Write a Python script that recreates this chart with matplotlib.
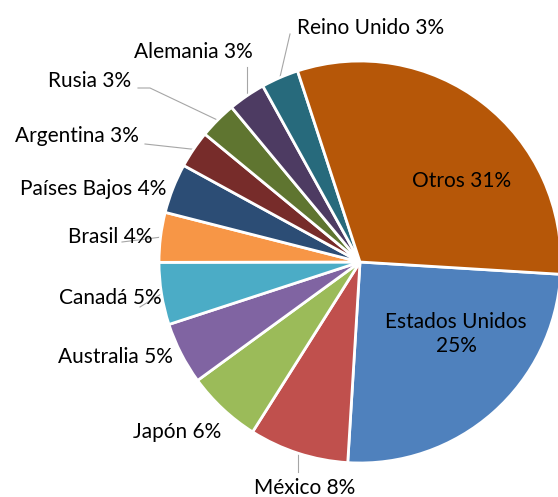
import numpy as np
import matplotlib.pyplot as plt

W, H = 558, 497

paises = ["Estados Unidos", "México", "Japón", "Australia", "Canadá", "Brasil",
          "Países Bajos", "Argentina", "Rusia", "Alemania", "Reino Unido", "Otros"]
porcentajes = [25, 8, 6, 5, 5, 4, 4, 3, 3, 3, 3, 31]
colores = ["#4F81BD", "#C0504D", "#9BBB59", "#8064A2", "#4BACC6", "#F79646",
           "#2C4D75", "#772C2A", "#5F7530", "#4D3B62", "#276A7C", "#B65708"]

# posicion de cada etiqueta (pixeles, y desde arriba) y puntos de la linea guia
etiquetas_pos = {
    "Estados Unidos": (456, 334), "México": (305, 488), "Japón": (177, 432),
    "Australia": (115, 357), "Canadá": (110, 298), "Brasil": (110, 237),
    "Países Bajos": (93, 189), "Argentina": (77, 136), "Rusia": (90, 81),
    "Alemania": (193, 52), "Reino Unido": (371, 28), "Otros": (462, 181),
}
# None en x = misma x que el punto de partida (linea vertical)
guias = {
    "México": [(None, 472)],
    "Canadá": [(140, 307)],
    "Brasil": [(122, 242)],
    "Argentina": [(145, 144)],
    "Rusia": [(150, 88), (138, 88)],
    "Alemania": [(None, 67)],
    "Reino Unido": [(290, 34)],
}

cx, cy, r = 360, 262, 201
inicio = -3.5

fig = plt.figure(figsize=(W / 100, H / 100), dpi=100)
ax = fig.add_axes([0, 0, 1, 1])

wedges, _ = ax.pie(porcentajes, colors=colores, startangle=inicio, counterclock=False,
                   center=(cx, H - cy), radius=r,
                   wedgeprops=dict(edgecolor="white", linewidth=2))
ax.set_aspect("equal")
ax.set_xlim(0, W)
ax.set_ylim(0, H)
ax.axis("off")

for w, nombre, p in zip(wedges, paises, porcentajes):
    x, y = etiquetas_pos[nombre]
    if nombre == "Estados Unidos":
        texto = f"{nombre}\n{p}%"
    else:
        texto = f"{nombre} {p}%"
    ax.text(x, H - y, texto, ha="center", va="center", fontsize=15,
            family="Lato", color="black", linespacing=1.25)
    if nombre in guias:
        ang = np.deg2rad((w.theta1 + w.theta2) / 2)
        x0 = cx + r * np.cos(ang)
        y0 = H - cy + r * np.sin(ang)
        px = [x0] + [x0 if q[0] is None else q[0] for q in guias[nombre]]
        py = [y0] + [H - q[1] for q in guias[nombre]]
        ax.plot(px, py, color="#A6A6A6", linewidth=0.8, zorder=0.5)

fig.savefig("out.png", dpi=100)
